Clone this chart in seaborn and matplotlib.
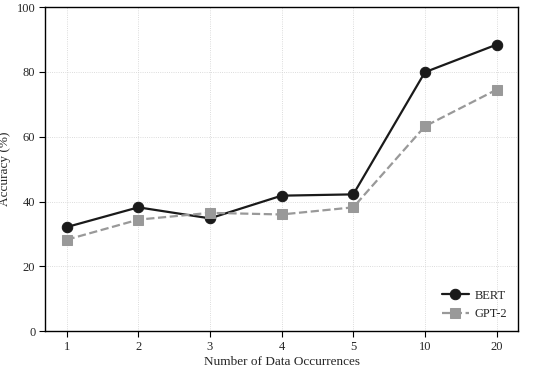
import numpy as np
import pandas as pd
import matplotlib
matplotlib.use("Agg")
import matplotlib.pyplot as plt
import seaborn as sns

# dados
occurrences = ["1", "2", "3", "4", "5", "10", "20"]
bert = [32.1, 38.2, 34.8, 41.8, 42.2, 79.9, 88.4]
gpt2 = [28.2, 34.4, 36.5, 36.0, 38.2, 63.2, 74.5]

sns.set_theme(style="whitegrid")
plt.rcParams["font.family"] = ["Liberation Serif", "DejaVu Serif"]

pos = np.arange(len(occurrences))
df = pd.DataFrame({"pos": np.concatenate([pos, pos]),
                   "acc": bert + gpt2,
                   "model": ["BERT"] * len(bert) + ["GPT-2"] * len(gpt2)})

fig, ax = plt.subplots(figsize=(5.5, 3.7), dpi=100)

sns.lineplot(data=df[df.model == "BERT"], x="pos", y="acc", ax=ax,
             color="#1a1a1a", lw=1.6, marker="o", markersize=7.5,
             markeredgecolor="#1a1a1a", label="BERT")
sns.lineplot(data=df[df.model == "GPT-2"], x="pos", y="acc", ax=ax,
             color="#999999", lw=1.6, ls="--", marker="s", markersize=7,
             markeredgecolor="#999999", label="GPT-2")

ax.set_xlim(-0.3, 6.3)
ax.set_ylim(0, 100)
ax.set_xticks(pos)
ax.set_xticklabels(occurrences)
ax.set_yticks([0, 20, 40, 60, 80, 100])
ax.set_xlabel("Number of Data Occurrences", fontsize=9.5, labelpad=2)
ax.set_ylabel("Accuracy (%)", fontsize=9.5, labelpad=4)
ax.tick_params(axis="both", labelsize=9, direction="out", length=4,
               width=0.8, color="black", bottom=True, left=True, pad=3)
ax.grid(True, color="#d0d0d0", lw=0.6, ls=":")
for s in ax.spines.values():
    s.set_color("black")
    s.set_linewidth(1.0)

ax.legend(loc="lower right", frameon=False, fontsize=9, handlelength=2.2,
          handletextpad=0.4, borderaxespad=0.5, labelspacing=0.5)

fig.subplots_adjust(left=0.082, right=0.942, top=0.981, bottom=0.105)
fig.savefig("out.png", dpi=100)
plt.close()
